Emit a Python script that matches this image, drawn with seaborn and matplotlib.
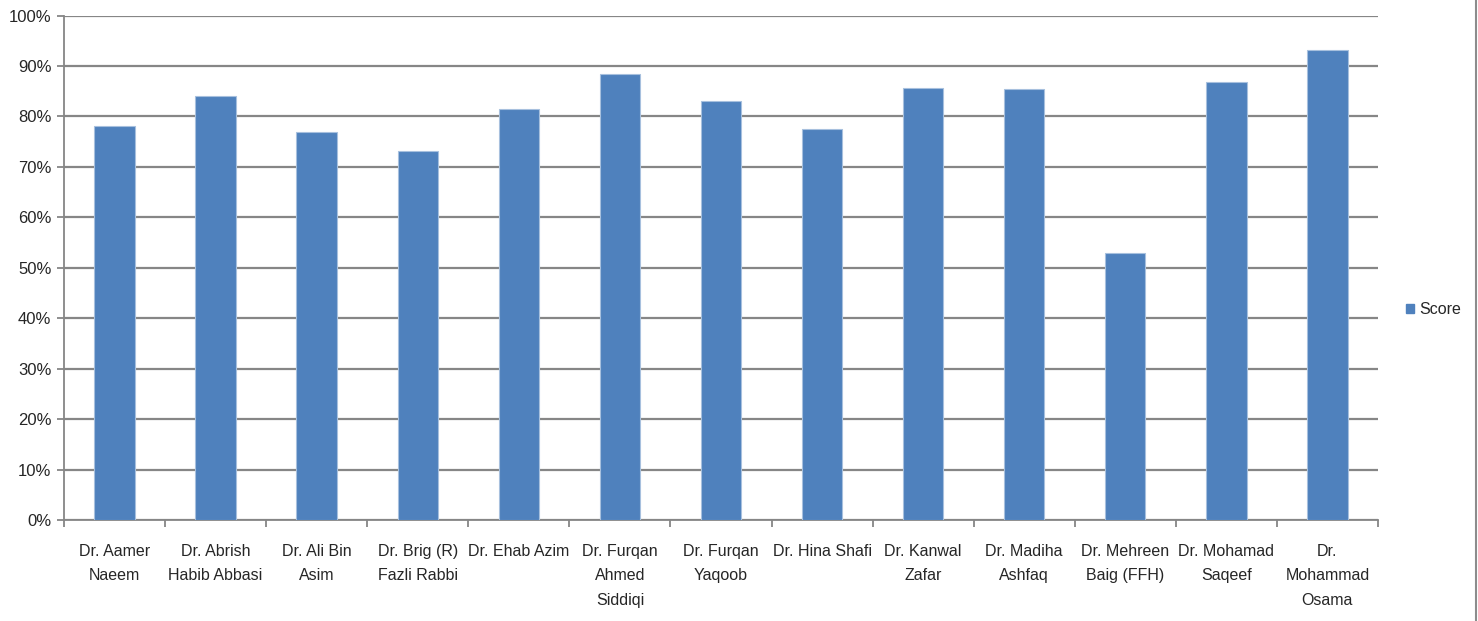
import matplotlib
matplotlib.use("Agg")
import matplotlib.pyplot as plt
import matplotlib.ticker as mticker
from matplotlib.lines import Line2D
from matplotlib.patches import Patch
import seaborn as sns
import pandas as pd

# Doctors and their scores
names = [
    "Dr. Aamer Naeem", "Dr. Abrish Habib Abbasi", "Dr. Ali Bin Asim",
    "Dr. Brig (R) Fazli Rabbi", "Dr. Ehab Azim", "Dr. Furqan Ahmed Siddiqi",
    "Dr. Furqan Yaqoob", "Dr. Hina Shafi", "Dr. Kanwal Zafar",
    "Dr. Madiha Ashfaq", "Dr. Mehreen Baig (FFH)", "Dr. Mohamad Saqeef",
    "Dr. Mohammad Osama",
]
tick_labels = [
    "Dr. Aamer\nNaeem", "Dr. Abrish\nHabib Abbasi", "Dr. Ali Bin\nAsim",
    "Dr. Brig (R)\nFazli Rabbi", "Dr. Ehab Azim", "Dr. Furqan\nAhmed\nSiddiqi",
    "Dr. Furqan\nYaqoob", "Dr. Hina Shafi", "Dr. Kanwal\nZafar",
    "Dr. Madiha\nAshfaq", "Dr. Mehreen\nBaig (FFH)", "Dr. Mohamad\nSaqeef",
    "Dr.\nMohammad\nOsama",
]
scores = [0.782, 0.840, 0.770, 0.731, 0.814, 0.885, 0.830,
          0.776, 0.856, 0.854, 0.529, 0.868, 0.931]

df = pd.DataFrame({"name": names, "score": scores})

sns.set_theme(style="white")
plt.rcParams["font.family"] = ["Liberation Sans", "DejaVu Sans"]

GRID = "#868686"
TEXT = "#262626"
BAR = "#4F81BD"
FS = 11.5

fig = plt.figure(figsize=(14.78, 6.21), dpi=100)
ax = fig.add_axes([0.0433, 0.1626, 0.9323 - 0.0433, 0.975 - 0.1626])

sns.barplot(data=df, x="name", y="score", color=BAR, width=0.4,
            edgecolor="#A7C0DE", linewidth=0.8, saturation=1,
            label="Score", ax=ax, zorder=3)

ax.set_xlim(-0.5, len(names) - 0.5)
ax.set_ylim(0, 1.0)
ax.set_yticks([i / 10 for i in range(11)])
ax.yaxis.set_major_formatter(mticker.PercentFormatter(1.0, decimals=0))
ax.yaxis.grid(True, color=GRID, linewidth=1.6, zorder=0)
ax.set_axisbelow(True)

# category labels centred, tick marks on category boundaries
ax.set_xticks(range(len(names)))
ax.set_xticklabels(tick_labels, linespacing=1.8)
ax.set_xticks([i - 0.5 for i in range(len(names) + 1)], minor=True)
ax.tick_params(axis="x", which="major", length=0, pad=17,
               labelsize=FS, labelcolor=TEXT)
ax.tick_params(axis="x", which="minor", length=5, width=1.3, color=GRID,
               direction="out", bottom=True)
ax.tick_params(axis="y", length=5, width=1.3, color=GRID, direction="out",
               left=True, labelsize=12, labelcolor=TEXT, pad=4)

ax.set_xlabel("")
ax.set_ylabel("")
for side in ("top", "right"):
    ax.spines[side].set_visible(False)
for side in ("left", "bottom"):
    ax.spines[side].set_color(GRID)
    ax.spines[side].set_linewidth(1.3)

leg = ax.legend(handles=[Patch(facecolor=BAR, edgecolor=BAR, label="Score")],
                loc="center left", bbox_to_anchor=(0.946, 0.502),
                bbox_transform=fig.transFigure, frameon=False,
                fontsize=FS, handlelength=0.5, handleheight=0.5,
                handletextpad=0.3, borderpad=0)
for t in leg.get_texts():
    t.set_color(TEXT)

# chart frame edge on the right
fig.add_artist(Line2D([0.9985, 0.9985], [0, 1], transform=fig.transFigure,
                      color="#8C8C8C", linewidth=1.5))

fig.savefig("out.png", dpi=100)
